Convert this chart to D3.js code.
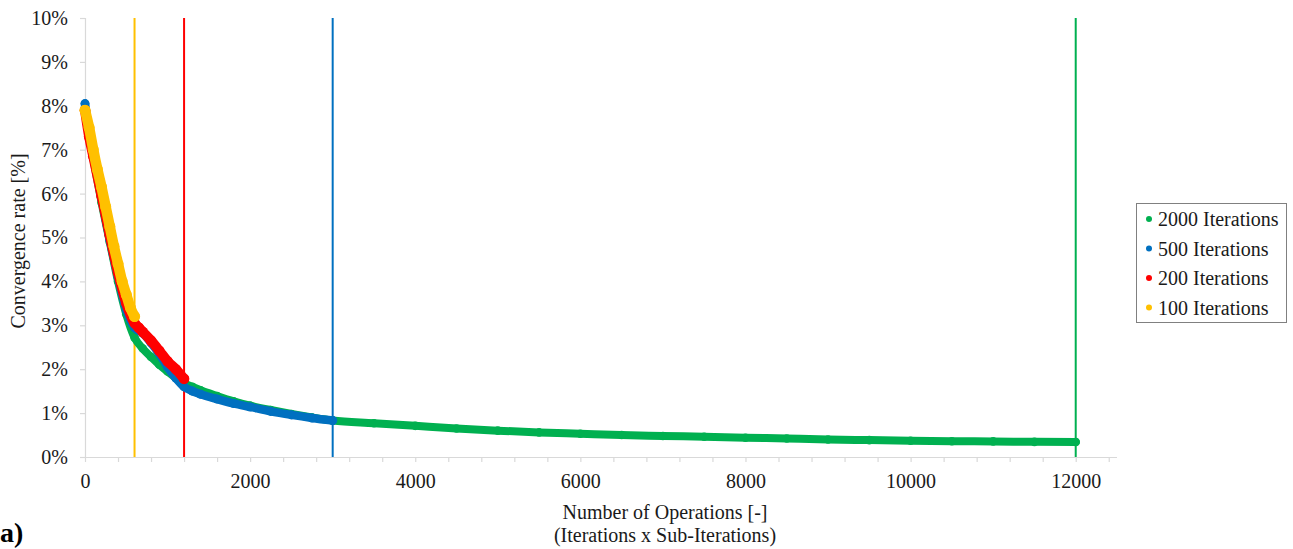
<!DOCTYPE html>
<html>
<head>
<meta charset="utf-8">
<script src="https://cdn.jsdelivr.net/npm/d3@7/dist/d3.min.js"></script>
<style>
  html, body { margin: 0; padding: 0; background: #fff; }
  svg { display: block; }
  svg text { font-family: "Liberation Serif", "Times New Roman", Times, "DejaVu Serif", serif !important; fill: #1a1a1a; }
</style>
</head>
<body>
<svg id="chart" width="1293" height="549"></svg>
<script>
// ---- data ----
const seriesNames = ["2000 Iterations", "500 Iterations", "200 Iterations", "100 Iterations"];
const seriesColors = ["#00B050", "#0070C0", "#FF0000", "#FFC000"];
const seriesEnds = [12000, 3000, 1200, 600]; // last operation of each run (vertical markers)

const ops2000  = [0, 50, 100, 200, 300, 400, 500, 600, 700, 800, 900, 1000, 1100, 1200, 1300, 1400, 1600, 1800, 2000, 2250, 2500, 2750, 3000, 3500, 4000, 4500, 5000, 5500, 6000, 6500, 7000, 7500, 8000, 8500, 9000, 9500, 10000, 10500, 11000, 11500, 12000];
const rate2000 = [7.9, 7.3, 6.8, 5.8, 4.9, 4.0, 3.25, 2.72, 2.47, 2.28, 2.1, 1.95, 1.8, 1.68, 1.6, 1.52, 1.39, 1.27, 1.17, 1.07, 0.98, 0.9, 0.83, 0.77, 0.71, 0.65, 0.6, 0.56, 0.53, 0.5, 0.48, 0.46, 0.44, 0.42, 0.4, 0.385, 0.37, 0.36, 0.355, 0.345, 0.34];

const ops500  = [0, 50, 100, 200, 300, 400, 500, 600, 700, 800, 900, 1000, 1100, 1200, 1300, 1400, 1600, 1800, 2000, 2250, 2500, 2750, 3000];
const rate500 = [8.05, 7.4, 6.9, 5.9, 4.95, 4.1, 3.35, 2.95, 2.82, 2.6, 2.35, 2.05, 1.8, 1.6, 1.5, 1.43, 1.32, 1.22, 1.14, 1.04, 0.96, 0.89, 0.83];

const ops200  = [0, 50, 100, 200, 300, 400, 500, 600, 650, 700, 800, 900, 1000, 1100, 1200];
const rate200 = [7.9, 7.3, 6.85, 5.95, 5.05, 4.2, 3.5, 3.05, 2.95, 2.85, 2.65, 2.42, 2.18, 2.0, 1.78];

const ops100  = [0, 50, 100, 150, 200, 250, 300, 350, 400, 450, 500, 550, 600];
const rate100 = [7.9, 7.5, 7.0, 6.55, 6.15, 5.7, 5.25, 4.8, 4.4, 4.0, 3.7, 3.4, 3.2];

const xTickLabels = [0, 2000, 4000, 6000, 8000, 10000, 12000];
const yTickLabels = [0, 1, 2, 3, 4, 5, 6, 7, 8, 9, 10];

const seriesOps = [ops2000, ops500, ops200, ops100];
const seriesRates = [rate2000, rate500, rate200, rate100];
const bandWidth = [8, 8.5, 10, 10.5];

// ---- layout ----
const svg = d3.select("#chart");
const plot = { left: 85, right: 1117, top: 18, bottom: 457 };

const x = d3.scaleLinear().domain([0, 12500]).range([plot.left, plot.right]);
const y = d3.scaleLinear().domain([0, 10]).range([plot.bottom, plot.top]);

// vertical end markers (behind data)
svg.append("g").selectAll("line")
  .data(seriesEnds)
  .join("line")
  .attr("x1", d => x(d)).attr("x2", d => x(d))
  .attr("y1", y(10)).attr("y2", y(0))
  .attr("stroke", (d, i) => seriesColors[i])
  .attr("stroke-width", 2);

// x axis
const xAxis = d3.axisBottom(x)
  .tickValues(d3.range(0, 12401, 400))
  .tickSize(5)
  .tickFormat(d => xTickLabels.includes(d) ? d : "");
const gx = svg.append("g").attr("transform", `translate(0,${plot.bottom})`).call(xAxis);
gx.attr("font-family", null);
gx.select(".domain").attr("stroke", "#d9d9d9").attr("stroke-width", 1.2).attr("d", `M${plot.left},0.5H${plot.right}`);
gx.selectAll(".tick line").attr("stroke", "#d9d9d9").attr("stroke-width", 1.2);
gx.selectAll(".tick text").attr("font-size", 20).attr("dy", "0.95em").attr("y", 12);

// y axis
const yAxis = d3.axisLeft(y)
  .tickValues(yTickLabels)
  .tickSize(5)
  .tickFormat(d => d + "%");
const gy = svg.append("g").attr("transform", `translate(${plot.left},0)`).call(yAxis);
gy.attr("font-family", null);
gy.select(".domain").attr("stroke", "#d9d9d9").attr("stroke-width", 1.2).attr("d", `M0.5,${plot.top}V${plot.bottom}`);
gy.selectAll(".tick line").attr("stroke", "#d9d9d9").attr("stroke-width", 1.2);
gy.selectAll(".tick text").attr("font-size", 20).attr("x", -17);

// data series: dense marker bands
const line = d3.line()
  .x(d => x(d[0])).y(d => y(d[1]))
  .curve(d3.curveMonotoneX);

seriesOps.forEach((ops, i) => {
  const pts = ops.map((o, j) => [o, seriesRates[i][j]]);
  const g = svg.append("g");
  g.append("path")
    .attr("d", line(pts))
    .attr("fill", "none")
    .attr("stroke", seriesColors[i])
    .attr("stroke-width", bandWidth[i])
    .attr("stroke-linecap", "round")
    .attr("stroke-linejoin", "round");
  g.selectAll("circle").data(pts).join("circle")
    .attr("cx", d => x(d[0])).attr("cy", d => y(d[1]))
    .attr("r", bandWidth[i] / 2 + 0.3)
    .attr("fill", seriesColors[i]);
});

// axis titles
svg.append("text").attr("x", 665).attr("y", 519).attr("text-anchor", "middle")
  .attr("font-size", 20).text("Number of Operations [-]");
svg.append("text").attr("x", 665).attr("y", 542).attr("text-anchor", "middle")
  .attr("font-size", 20).text("(Iterations x Sub-Iterations)");
svg.append("text").attr("transform", "translate(25,241) rotate(-90)").attr("text-anchor", "middle")
  .attr("font-size", 20).text("Convergence rate [%]");

// panel label
svg.append("text").attr("x", 0).attr("y", 542).attr("font-size", 28).attr("font-weight", "bold")
  .style("fill", "#000").text("a)");

// legend
const lg = svg.append("g");
lg.append("rect").attr("x", 1136.5).attr("y", 203.5).attr("width", 150).attr("height", 119)
  .attr("fill", "#fff").attr("stroke", "#808080").attr("stroke-width", 1);
seriesNames.forEach((name, i) => {
  const cy = 219 + i * 29.5;
  lg.append("circle").attr("cx", 1149).attr("cy", cy).attr("r", 3).attr("fill", seriesColors[i]);
  lg.append("text").attr("x", 1158).attr("y", cy).attr("dy", "0.35em")
    .attr("font-size", 20).text(name);
});
</script>
</body>
</html>
